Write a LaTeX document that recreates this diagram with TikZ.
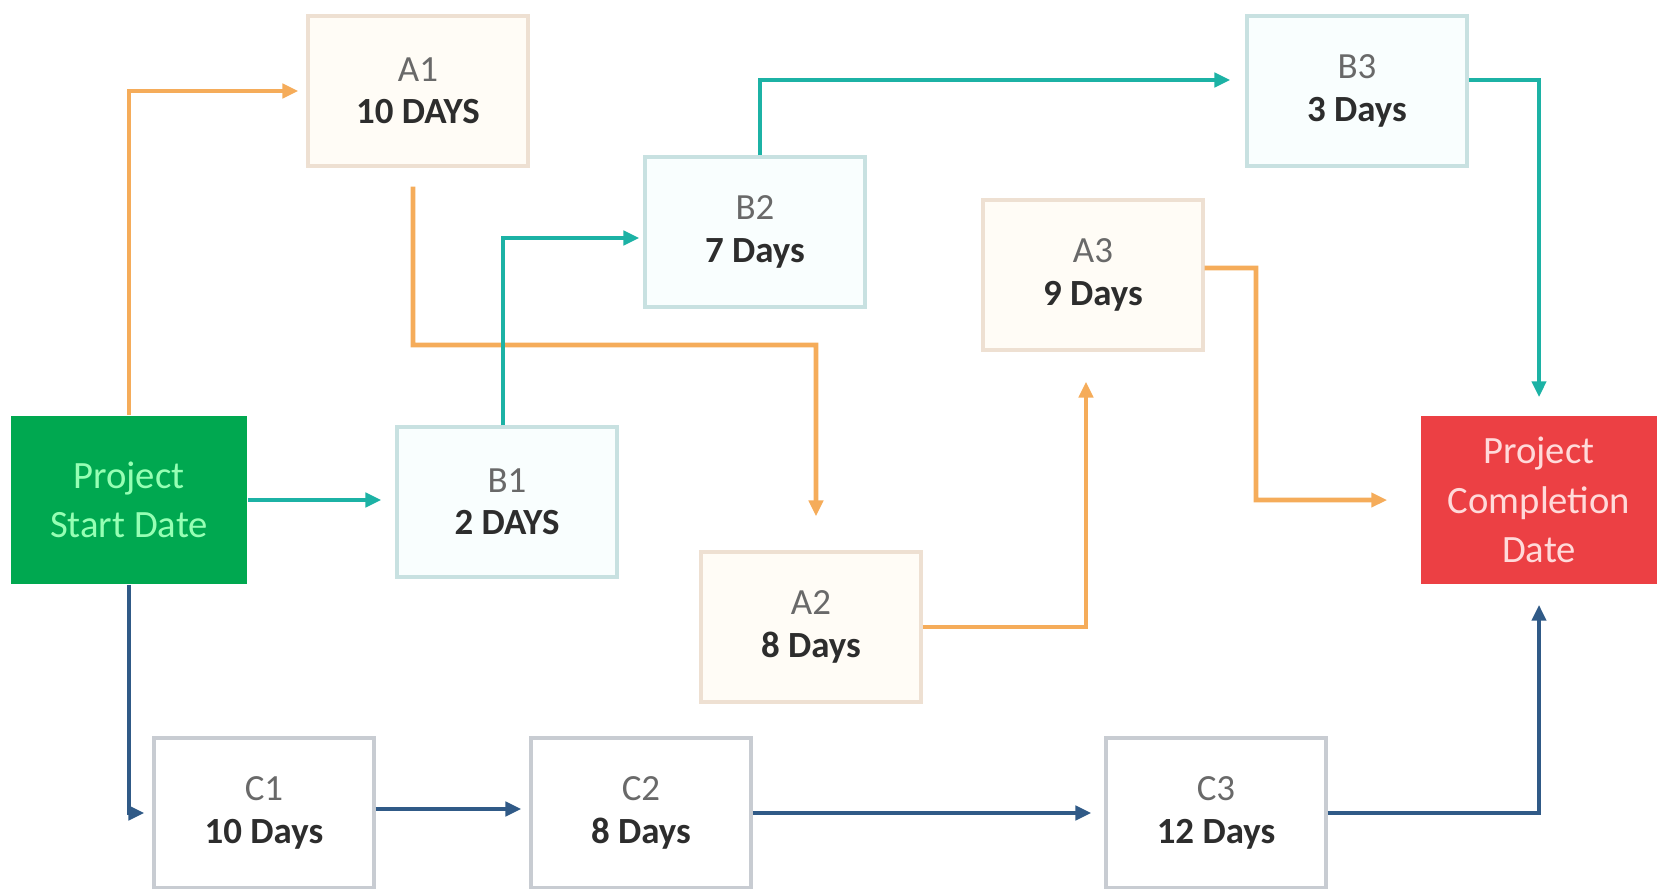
\documentclass[tikz,border=0pt]{standalone}
\usepackage{fontspec}
\setmainfont{Carlito}
\usetikzlibrary{arrows.meta}

\definecolor{pathorange}{RGB}{245,172,90}
\definecolor{pathteal}{RGB}{28,178,165}
\definecolor{pathnavy}{RGB}{48,90,135}
\definecolor{startgreen}{RGB}{0,168,80}
\definecolor{starttext}{RGB}{150,255,180}
\definecolor{endred}{RGB}{236,64,68}
\definecolor{endtext}{RGB}{255,218,218}
\definecolor{aborder}{RGB}{238,224,210}
\definecolor{bborder}{RGB}{200,225,225}
\definecolor{cborder}{RGB}{200,204,210}
\definecolor{toptext}{RGB}{105,105,105}
\definecolor{daytext}{RGB}{45,45,45}

\newcommand{\tasklabel}[2]{{\color{toptext}#1}\\{\color{daytext}\bfseries #2}}

\begin{document}
\begin{tikzpicture}[x=0.02cm, y=-0.02cm,
    task/.style={draw, line width=2pt, minimum width=4.4cm, minimum height=3cm,
        align=center, font=\fontsize{21}{24}\selectfont},
    atask/.style={task, draw=aborder, fill={rgb,255:red,255;green,252;blue,246}},
    btask/.style={task, draw=bborder, fill={rgb,255:red,249;green,254;blue,254}},
    ctask/.style={task, draw=cborder, fill=white},
    milestone/.style={minimum width=4.74cm, minimum height=3.38cm, align=center,
        font=\fontsize{22}{28}\selectfont},
    flow/.style={line width=2.6pt, -{Triangle[length=9pt,width=8pt]}, shorten >=0.16cm}]
    \useasboundingbox (0,0) rectangle (1657,889);

    % milestones
    \node[milestone, fill=startgreen, text=starttext] (start) at (129,500) {Project\\Start Date};
    \node[milestone, fill=endred, text=endtext] (finish) at (1539,500) {Project\\Completion\\Date};

    % tasks
    \node[atask] (a1) at (418,91) {\tasklabel{A1}{10 DAYS}};
    \node[atask] (a2) at (811,627) {\tasklabel{A2}{8 Days}};
    \node[atask] (a3) at (1093,275) {\tasklabel{A3}{9 Days}};
    \node[btask] (b1) at (507,502) {\tasklabel{B1}{2 DAYS}};
    \node[btask] (b2) at (755,232) {\tasklabel{B2}{7 Days}};
    \node[btask] (b3) at (1357,91) {\tasklabel{B3}{3 Days}};
    \node[ctask] (c1) at (264,813) {\tasklabel{C1}{10 Days}};
    \node[ctask] (c2) at (641,813) {\tasklabel{C2}{8 Days}};
    \node[ctask] (c3) at (1216,813) {\tasklabel{C3}{12 Days}};

    \coordinate (a1drop) at (413,345);
    \coordinate (a3bend) at (1256,268);

    % Orange path A
    \draw[flow, pathorange] (start.north) |- (a1.west);
    \draw[flow, pathorange, shorten <=0.38cm, shorten >=0.68cm]
        ([xshift=-0.1cm]a1.south) -- (a1drop) -| ([xshift=0.1cm]a2.north);
    \draw[flow, pathorange, shorten >=0.6cm] (a2.east) -| ([xshift=-0.14cm]a3.south);
    \draw[flow, pathorange, shorten >=0.66cm] ([yshift=0.14cm]a3.east) -- (a3bend) |- (finish.west);

    % Teal path B
    \draw[flow, pathteal, shorten >=0.28cm] (start.east) -- (start.east -| b1.west);
    \draw[flow, pathteal, shorten >=0.08cm] ([xshift=-0.08cm]b1.north) |- ([yshift=-0.12cm]b2.west);
    \draw[flow, pathteal, shorten >=0.3cm] ([xshift=0.1cm]b2.north) |- ([yshift=0.22cm]b3.west);
    \draw[flow, pathteal, shorten >=0.36cm] ([yshift=0.22cm]b3.east) -| (finish.north);

    % Navy path C
    \draw[flow, pathnavy] (start.south) |- (c1.west);
    \draw[flow, pathnavy] ([yshift=0.08cm]c1.east) -- ([yshift=0.08cm]c2.west);
    \draw[flow, pathnavy, shorten >=0.26cm] (c2.east) -- (c3.west);
    \draw[flow, pathnavy, shorten >=0.4cm] (c3.east) -| (finish.south);
\end{tikzpicture}
\end{document}
